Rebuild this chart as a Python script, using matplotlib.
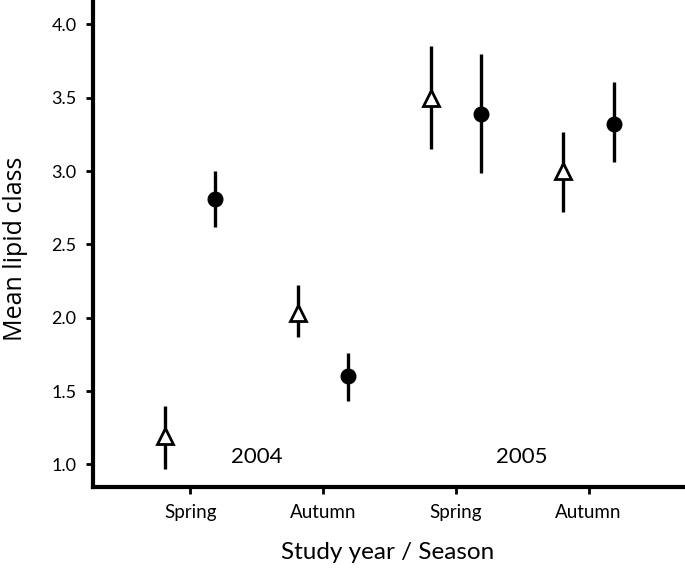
import matplotlib
matplotlib.use("Agg")
import matplotlib.pyplot as plt
import numpy as np

plt.rcParams['font.family'] = ['Lato', 'DejaVu Sans']

seasons = ["Spring", "Autumn", "Spring", "Autumn"]
years = ["2004", "2005"]
tri_mean = [1.19, 2.03, 3.50, 3.00]
tri_low = [0.97, 1.87, 3.15, 2.72]
tri_high = [1.40, 2.22, 3.85, 3.27]
circ_mean = [2.81, 1.60, 3.39, 3.32]
circ_low = [2.62, 1.43, 2.99, 3.06]
circ_high = [3.00, 1.76, 3.80, 3.61]

fig = plt.figure(figsize=(6.85, 5.71), dpi=100)
ax = fig.add_axes([0.136, 0.147, 0.861, 0.853])

x = np.arange(1, len(seasons) + 1)
off = 0.19

tm = np.array(tri_mean)
cm = np.array(circ_mean)
ax.errorbar(x - off, tm, yerr=[tm - np.array(tri_low), np.array(tri_high) - tm],
            fmt='^', mfc='white', mec='black', mew=2.0, ms=11, color='black',
            elinewidth=2.4, capsize=0, zorder=3)
ax.errorbar(x + off, cm, yerr=[cm - np.array(circ_low), np.array(circ_high) - cm],
            fmt='o', mfc='black', mec='black', ms=10.5, color='black',
            elinewidth=2.4, capsize=0, zorder=3)

ax.set_xlim(0.27, 4.71)
ax.set_ylim(0.845, 4.167)
ax.set_xticks(x)
ax.set_xticklabels(seasons, fontsize=13.5)
ax.set_yticks([1.0, 1.5, 2.0, 2.5, 3.0, 3.5, 4.0])
ax.set_yticklabels(["1.0", "1.5", "2.0", "2.5", "3.0", "3.5", "4.0"], fontsize=13)

for s in ['top', 'right']:
    ax.spines[s].set_visible(False)
for s in ['left', 'bottom']:
    ax.spines[s].set_linewidth(3)
ax.tick_params(axis='both', direction='out', length=5, width=2, pad=7)

ax.text(1.5, 1.05, years[0], fontsize=16, ha='center', va='center')
ax.text(3.5, 1.05, years[1], fontsize=16, ha='center', va='center')

ax.set_xlabel("Study year / Season", fontsize=17.5, labelpad=15)
ax.set_ylabel("Mean lipid class", fontsize=18, family=['Open Sans', 'DejaVu Sans'])
ax.yaxis.set_label_coords(-0.11, 0.49)

fig.savefig("out.png", dpi=100)
